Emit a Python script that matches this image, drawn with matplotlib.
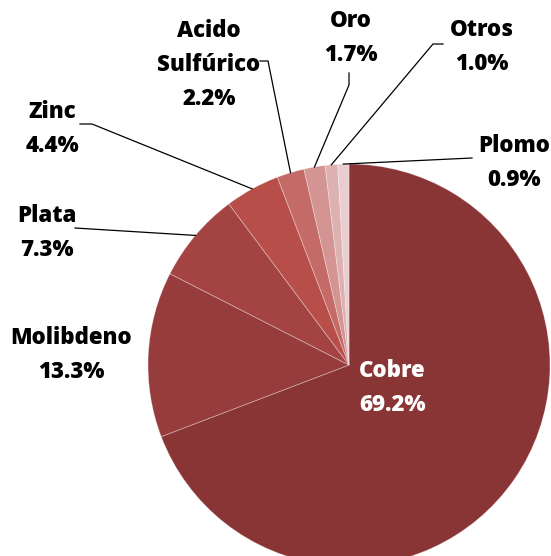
import numpy as np
import matplotlib
matplotlib.use('Agg')
import matplotlib.pyplot as plt

# Datos del grafico
nombres = ['Cobre', 'Molibdeno', 'Plata', 'Zinc', 'Acido\nSulfúrico', 'Oro', 'Otros', 'Plomo']
porcentajes = [69.2, 13.3, 7.3, 4.4, 2.2, 1.7, 1.0, 0.9]
colores = ['#8a3535', '#963c3c', '#a44442', '#b84e4a', '#c46b68',
           '#d39492', '#ddb1b1', '#eacdce']

W, H = 551, 556
cx, cy, R = 349, 556 - 365, 201

plt.rcParams['font.family'] = ['Open Sans', 'DejaVu Sans']

fig = plt.figure(figsize=(W / 100, H / 100), dpi=100)
ax = fig.add_axes([0, 0, 1, 1])

wedges, _ = ax.pie(porcentajes, colors=colores, startangle=90, counterclock=False,
                   center=(cx, cy), radius=R, frame=True,
                   wedgeprops=dict(edgecolor=(1, 1, 1, 0.35), linewidth=0.6))
ax.set_xlim(0, W)
ax.set_ylim(0, H)
ax.set_aspect('equal')
ax.axis('off')

# posicion de las etiquetas (pixeles desde arriba) y codos de las lineas
etiq = {
    'Cobre': (392, 388, None),
    'Molibdeno': (71, 355, None),
    'Plata': (47, 233, [(75, 228)]),
    'Zinc': (52, 129, [(80, 124), (92, 124)]),
    'Acido\nSulfúrico': (209, 65, [(260, 61), (268, 61)]),
    'Oro': (351, 38, [(349, 73), (349, 85)]),
    'Otros': (482, 47, [(443, 44), (433, 44)]),
    'Plomo': (514, 163, [(472, 158)]),
}

for w, nom, p in zip(wedges, nombres, porcentajes):
    x, y, codo = etiq[nom]
    col = 'white' if nom == 'Cobre' else 'black'
    ax.text(x, H - y, f'{nom}\n{p:.1f}%', ha='center', va='center', color=col,
            fontsize=16, fontweight='heavy', linespacing=1.55)
    if codo:
        ang = np.deg2rad((w.theta1 + w.theta2) / 2)
        px = cx + R * np.cos(ang)
        py = cy + R * np.sin(ang)
        xs = [c[0] for c in codo] + [px]
        ys = [H - c[1] for c in codo] + [py]
        ax.plot(xs, ys, color='black', lw=0.9)

plt.savefig('out.png', dpi=100)
